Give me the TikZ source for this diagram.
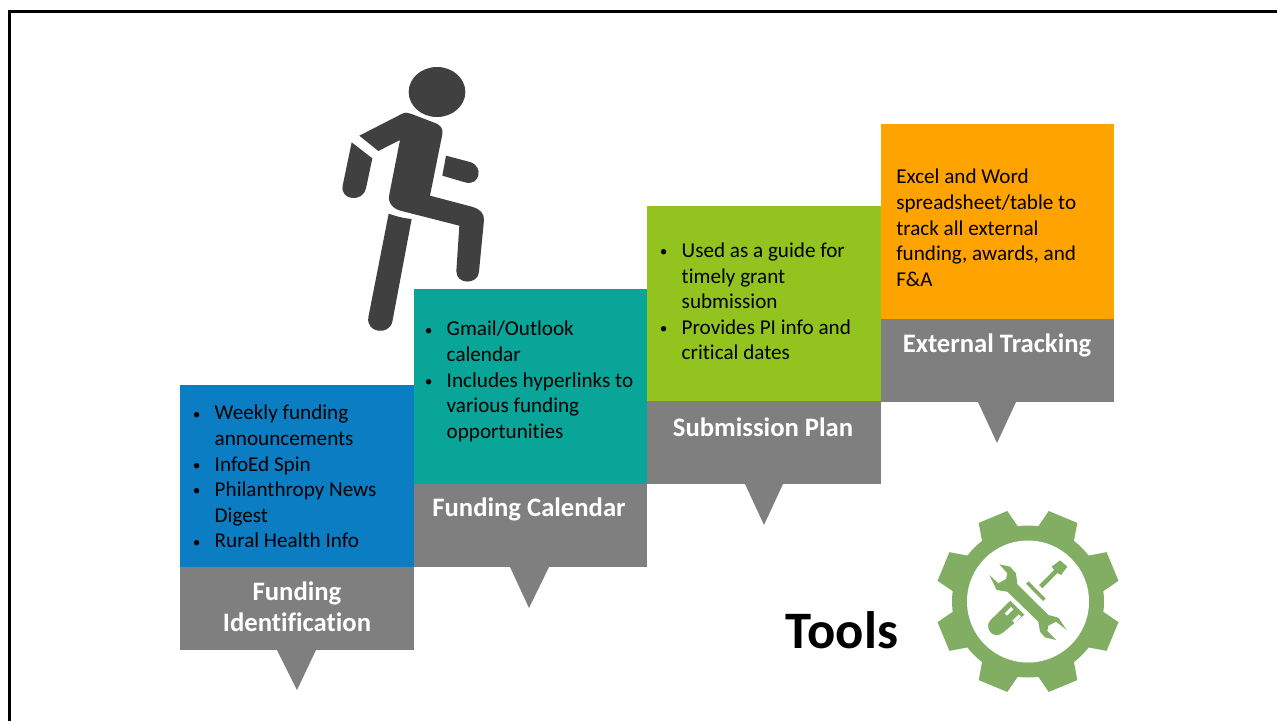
\documentclass[tikz,border=0pt]{standalone}
\usepackage{fontspec}
\setmainfont{Carlito}[Ligatures=NoCommon]
\definecolor{bluebox}{HTML}{0B7DC2}
\definecolor{tealbox}{HTML}{09A598}
\definecolor{greenbox}{HTML}{92C31F}
\definecolor{orangebox}{HTML}{FFA300}
\definecolor{graybox}{HTML}{7F7F7F}
\definecolor{figure}{HTML}{404040}
\definecolor{gear}{HTML}{82AE64}
\newcommand{\bul}[1]{\makebox[17.6pt][l]{\hspace*{1.2pt}\raisebox{0.6pt}{\fontsize{11.5}{12}\selectfont\textbullet}}#1}
\newcommand{\cont}[1]{\hspace*{17.6pt}#1}
\tikzset{
  body/.style={anchor=north west,inner sep=0pt,align=left,text=black,font=\fontsize{15.85}{19.2}\selectfont},
  head/.style={anchor=center,inner sep=0pt,align=center,text=white,font=\fontsize{20}{23.4}\selectfont\bfseries},
  box/.style={anchor=north west,inner sep=0pt,outer sep=0pt,draw=none},
  person/.style={fill=figure,draw=none},
}
\begin{document}
\begin{tikzpicture}[x=0.75pt,y=-0.75pt]
\useasboundingbox (0,0) rectangle (1277,721);
\fill[white] (0,0) rectangle (1277,721);
% frame
\coordinate (fa) at (9.5,721);
\coordinate (fb) at (9.5,11);
\coordinate (fc) at (1277,11);
\draw[line width=2.25pt,black] (fa) -- (fb) -- (fc);

% person
\begin{scope}[shift={(330,55)},x=0.25pt,y=-0.25pt]
\fill[person] (321,111) ellipse [x radius=85,y radius=75];
\fill[person] (88,242) -- (215,177) .. controls (225,172) and (232,172) .. (242,176) -- (318,205)
   .. controls (332,211) and (340,222) .. (337,238) -- (300,422) -- (425,455)
   .. controls (450,462) and (463,475) .. (462,495)
   -- (447,650) .. controls (445,690) and (378,690) .. (379,648) -- (388,512) -- (215,468)
   .. controls (190,462) and (172,445) .. (178,418) -- (210,255) -- (145,288) -- cycle;
\fill[person] (65,262) -- (127,310) -- (108,400) .. controls (100,442) and (30,438) .. (38,392) -- cycle;
\fill[person] (348,302) -- (420,321) .. controls (462,333) and (450,395) .. (405,382) -- (337,362) -- cycle;
\fill[person] (176,476) .. controls (198,484) and (222,490) .. (245,492) -- (187,800) .. controls (178,842) and (108,835) .. (115,787) -- cycle;
\end{scope}

% gear
\begin{scope}[shift={(1028,601.5)}]
\fill[gear] (0,0) circle [radius=76];
\foreach \a in {22.5,67.5,...,337.5}{
  \fill[gear,rotate=\a] (70,-20) -- (91.5,-15.5) -- (91.5,15.5) -- (70,20) -- cycle;
}
\fill[white] (0,0) circle [radius=61];
\end{scope}
\begin{scope}[shift={(930,505)},x=0.25pt,y=-0.25pt]
% screwdriver
\fill[gear] (241,287) -- (283,329) -- (220,382) .. controls (205,395) and (188,392) .. (180,380) .. controls (172,368) and (172,355) .. (182,345) -- cycle;
\fill[white] (224,325) -- (243,306) -- (250,313) -- (231,332) -- cycle;
\fill[white] (247,347) -- (266,328) -- (273,335) -- (254,354) -- cycle;
\fill[gear] (288,236) -- (296,229) -- (347,281) -- (339,288) -- cycle;
\fill[gear] (327,240) -- (372,195) -- (365,185) -- (390,166) -- (412,185) -- (393,210) -- (382,204) -- (337,250) -- cycle;
% wrench
\fill[gear] (208,178) -- (240,185) -- (258,205) -- (262,238) -- (355,330) -- (385,338) -- (410,375) -- (378,350) -- (355,362) -- (352,378)
  -- (378,405) -- (345,397) -- (330,380) -- (325,350) -- (232,260) -- (200,255) -- (178,210) -- (205,235) -- (228,222) -- (232,205) -- cycle;
\end{scope}

% step 1
\node[box,fill=bluebox,minimum width=234*0.75pt,minimum height=182*0.75pt] (b1) at (180,385) {};
\fill[graybox] (180,567) rectangle (414,650);
\coordinate (t1) at (297,690);
\fill[graybox] (277,650) -- (t1) -- (316,650) -- cycle;
\node[body] (x1) at (191,405) {\bul{Weekly funding}\\\cont{announcements}\\\bul{InfoEd Spin}\\\bul{Philanthropy News}\\\cont{Digest}\\\bul{Rural Health Info}};
\node[head] (h1) at (297,607) {Funding\\Identification};

% step 2
\node[box,fill=tealbox,minimum width=233*0.75pt,minimum height=195*0.75pt] (b2) at (414,289) {};
\fill[graybox] (414,484) rectangle (647,567);
\coordinate (t2) at (529,608);
\fill[graybox] (510,567) -- (t2) -- (549,567) -- cycle;
\node[body] (x2) at (423,321) {\bul{Gmail/Outlook}\\\cont{calendar}\\\bul{Includes hyperlinks to}\\\cont{various funding}\\\cont{opportunities}};
\node[head] (h2) at (529,509) {Funding Calendar};

% step 3
\node[box,fill=greenbox,minimum width=234*0.75pt,minimum height=195*0.75pt] (b3) at (647,206) {};
\fill[graybox] (647,401) rectangle (881,484);
\coordinate (t3) at (764,525);
\fill[graybox] (745,484) -- (t3) -- (783,484) -- cycle;
\node[body] (x3) at (658,242.5) {\bul{Used as a guide for}\\\cont{timely grant}\\\cont{submission}\\\bul{Provides PI info and}\\\cont{critical dates}};
\node[head] (h3) at (763,427) {Submission Plan};

% step 4
\node[box,fill=orangebox,minimum width=233*0.75pt,minimum height=195*0.75pt] (b4) at (881,124) {};
\fill[graybox] (881,319) rectangle (1114,402);
\coordinate (t4) at (997,443);
\fill[graybox] (978,402) -- (t4) -- (1016,402) -- cycle;
\node[body] (x4) at (896,169) {Excel and Word\\spreadsheet/table to\\track all external\\funding, awards, and\\F\&A};
\node[head] (h4) at (997,345) {External Tracking};

\node[anchor=center,inner sep=0pt,font=\fontsize{39.5}{44}\selectfont\bfseries,text=black] (tools) at (842,630) {Tools};
\end{tikzpicture}
\end{document}
